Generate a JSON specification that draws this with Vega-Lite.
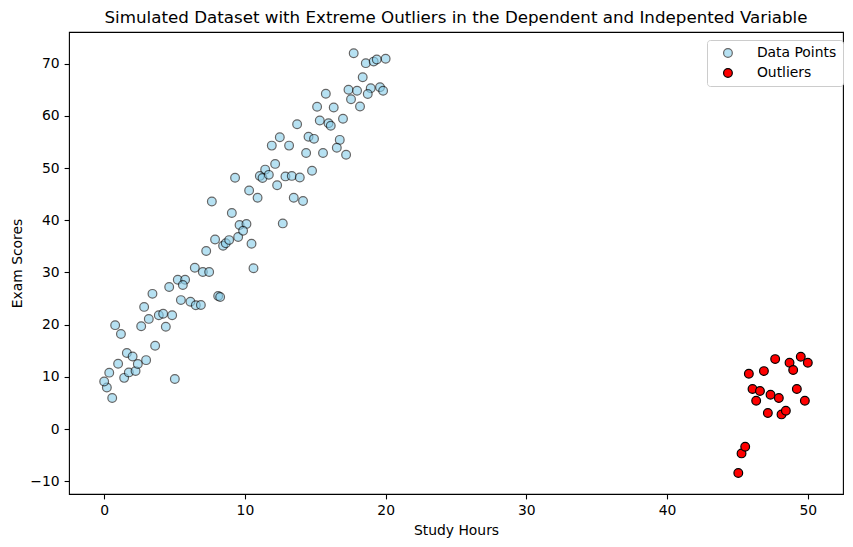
{
  "$schema": "https://vega.github.io/schema/vega-lite/v6.json",
  "autosize": {"type": "none"},
  "width": 774,
  "height": 462,
  "padding": {"left": 69, "top": 32, "right": 10, "bottom": 53},
  "background": "white",
  "title": {
    "text": "Simulated Dataset with Extreme Outliers in the Dependent and Indepented Variable",
    "font": "DejaVu Sans",
    "fontSize": 16.7,
    "fontWeight": "normal",
    "color": "black",
    "anchor": "middle",
    "offset": 5
  },
  "config": {
    "font": "DejaVu Sans",
    "view": {"stroke": "black", "strokeWidth": 1.1, "fill": "white"},
    "axis": {
      "domain": false,
      "grid": false,
      "ticks": true,
      "tickColor": "black",
      "tickWidth": 1.1,
      "tickSize": 4.9,
      "labelPadding": 4.9,
      "labelFont": "DejaVu Sans",
      "labelFontSize": 13.9,
      "labelColor": "black",
      "titleFont": "DejaVu Sans",
      "titleFontSize": 13.9,
      "titleFontWeight": "normal",
      "titleColor": "black",
      "titlePadding": 5.6
    }
  },
  "data": {
    "values": [
      {"h": 0.57, "s": 5.94, "series": "Data Points"},
      {"h": 0.19, "s": 7.97, "series": "Data Points"},
      {"h": 0.0, "s": 9.1, "series": "Data Points"},
      {"h": 0.36, "s": 10.8, "series": "Data Points"},
      {"h": 0.99, "s": 12.5, "series": "Data Points"},
      {"h": 1.42, "s": 9.8, "series": "Data Points"},
      {"h": 1.75, "s": 10.85, "series": "Data Points"},
      {"h": 2.23, "s": 11.1, "series": "Data Points"},
      {"h": 2.39, "s": 12.45, "series": "Data Points"},
      {"h": 1.61, "s": 14.56, "series": "Data Points"},
      {"h": 2.02, "s": 13.9, "series": "Data Points"},
      {"h": 2.98, "s": 13.2, "series": "Data Points"},
      {"h": 3.62, "s": 15.96, "series": "Data Points"},
      {"h": 5.02, "s": 9.58, "series": "Data Points"},
      {"h": 0.78, "s": 19.9, "series": "Data Points"},
      {"h": 1.19, "s": 18.2, "series": "Data Points"},
      {"h": 2.63, "s": 19.7, "series": "Data Points"},
      {"h": 3.17, "s": 21.1, "series": "Data Points"},
      {"h": 2.84, "s": 23.4, "series": "Data Points"},
      {"h": 3.43, "s": 25.9, "series": "Data Points"},
      {"h": 3.88, "s": 21.8, "series": "Data Points"},
      {"h": 4.19, "s": 22.1, "series": "Data Points"},
      {"h": 4.83, "s": 21.8, "series": "Data Points"},
      {"h": 4.38, "s": 19.6, "series": "Data Points"},
      {"h": 4.62, "s": 27.2, "series": "Data Points"},
      {"h": 5.45, "s": 24.7, "series": "Data Points"},
      {"h": 6.13, "s": 24.4, "series": "Data Points"},
      {"h": 6.51, "s": 23.7, "series": "Data Points"},
      {"h": 6.87, "s": 23.75, "series": "Data Points"},
      {"h": 5.23, "s": 28.6, "series": "Data Points"},
      {"h": 5.75, "s": 28.6, "series": "Data Points"},
      {"h": 5.59, "s": 27.6, "series": "Data Points"},
      {"h": 6.44, "s": 30.9, "series": "Data Points"},
      {"h": 7.01, "s": 30.1, "series": "Data Points"},
      {"h": 7.46, "s": 30.1, "series": "Data Points"},
      {"h": 7.25, "s": 34.1, "series": "Data Points"},
      {"h": 8.1, "s": 25.5, "series": "Data Points"},
      {"h": 8.24, "s": 25.3, "series": "Data Points"},
      {"h": 7.88, "s": 36.3, "series": "Data Points"},
      {"h": 8.45, "s": 35.1, "series": "Data Points"},
      {"h": 8.64, "s": 35.6, "series": "Data Points"},
      {"h": 8.88, "s": 36.2, "series": "Data Points"},
      {"h": 9.52, "s": 36.8, "series": "Data Points"},
      {"h": 9.07, "s": 41.4, "series": "Data Points"},
      {"h": 9.62, "s": 39.1, "series": "Data Points"},
      {"h": 10.11, "s": 39.3, "series": "Data Points"},
      {"h": 9.87, "s": 38.0, "series": "Data Points"},
      {"h": 10.47, "s": 35.5, "series": "Data Points"},
      {"h": 10.61, "s": 30.8, "series": "Data Points"},
      {"h": 7.65, "s": 43.6, "series": "Data Points"},
      {"h": 17.73, "s": 72.0, "series": "Data Points"},
      {"h": 18.59, "s": 70.1, "series": "Data Points"},
      {"h": 19.15, "s": 70.4, "series": "Data Points"},
      {"h": 19.37, "s": 70.8, "series": "Data Points"},
      {"h": 20.0, "s": 70.95, "series": "Data Points"},
      {"h": 18.37, "s": 67.4, "series": "Data Points"},
      {"h": 17.36, "s": 65.0, "series": "Data Points"},
      {"h": 17.97, "s": 64.8, "series": "Data Points"},
      {"h": 18.94, "s": 65.3, "series": "Data Points"},
      {"h": 19.6, "s": 65.5, "series": "Data Points"},
      {"h": 19.82, "s": 64.8, "series": "Data Points"},
      {"h": 18.73, "s": 64.2, "series": "Data Points"},
      {"h": 17.54, "s": 63.2, "series": "Data Points"},
      {"h": 18.18, "s": 61.8, "series": "Data Points"},
      {"h": 15.75, "s": 64.25, "series": "Data Points"},
      {"h": 15.13, "s": 61.75, "series": "Data Points"},
      {"h": 16.31, "s": 61.6, "series": "Data Points"},
      {"h": 16.97, "s": 59.45, "series": "Data Points"},
      {"h": 15.32, "s": 59.1, "series": "Data Points"},
      {"h": 15.94, "s": 58.6, "series": "Data Points"},
      {"h": 16.1, "s": 58.1, "series": "Data Points"},
      {"h": 13.71, "s": 58.4, "series": "Data Points"},
      {"h": 12.48, "s": 55.9, "series": "Data Points"},
      {"h": 11.91, "s": 54.3, "series": "Data Points"},
      {"h": 13.14, "s": 54.3, "series": "Data Points"},
      {"h": 14.52, "s": 56.0, "series": "Data Points"},
      {"h": 14.91, "s": 55.6, "series": "Data Points"},
      {"h": 16.74, "s": 55.4, "series": "Data Points"},
      {"h": 16.53, "s": 53.9, "series": "Data Points"},
      {"h": 17.19, "s": 52.55, "series": "Data Points"},
      {"h": 14.35, "s": 52.9, "series": "Data Points"},
      {"h": 15.55, "s": 52.9, "series": "Data Points"},
      {"h": 12.15, "s": 50.8, "series": "Data Points"},
      {"h": 11.44, "s": 49.7, "series": "Data Points"},
      {"h": 11.06, "s": 48.5, "series": "Data Points"},
      {"h": 11.25, "s": 48.1, "series": "Data Points"},
      {"h": 11.7, "s": 48.7, "series": "Data Points"},
      {"h": 12.88, "s": 48.4, "series": "Data Points"},
      {"h": 13.33, "s": 48.5, "series": "Data Points"},
      {"h": 13.9, "s": 48.2, "series": "Data Points"},
      {"h": 14.77, "s": 49.5, "series": "Data Points"},
      {"h": 12.29, "s": 46.7, "series": "Data Points"},
      {"h": 9.3, "s": 48.15, "series": "Data Points"},
      {"h": 10.3, "s": 45.7, "series": "Data Points"},
      {"h": 10.9, "s": 44.3, "series": "Data Points"},
      {"h": 13.47, "s": 44.3, "series": "Data Points"},
      {"h": 14.13, "s": 43.7, "series": "Data Points"},
      {"h": 12.69, "s": 39.4, "series": "Data Points"},
      {"h": 45.06, "s": -8.43, "series": "Outliers"},
      {"h": 45.29, "s": -4.67, "series": "Outliers"},
      {"h": 45.55, "s": -3.39, "series": "Outliers"},
      {"h": 45.81, "s": 10.6, "series": "Outliers"},
      {"h": 46.88, "s": 11.1, "series": "Outliers"},
      {"h": 47.68, "s": 13.4, "series": "Outliers"},
      {"h": 48.7, "s": 12.7, "series": "Outliers"},
      {"h": 48.96, "s": 11.3, "series": "Outliers"},
      {"h": 49.5, "s": 13.85, "series": "Outliers"},
      {"h": 50.0, "s": 12.7, "series": "Outliers"},
      {"h": 46.07, "s": 7.66, "series": "Outliers"},
      {"h": 46.6, "s": 7.28, "series": "Outliers"},
      {"h": 46.33, "s": 5.42, "series": "Outliers"},
      {"h": 47.35, "s": 6.57, "series": "Outliers"},
      {"h": 47.94, "s": 5.93, "series": "Outliers"},
      {"h": 49.22, "s": 7.66, "series": "Outliers"},
      {"h": 49.79, "s": 5.42, "series": "Outliers"},
      {"h": 47.16, "s": 3.06, "series": "Outliers"},
      {"h": 48.13, "s": 2.8, "series": "Outliers"},
      {"h": 48.44, "s": 3.5, "series": "Outliers"}
    ]
  },
  "mark": {
    "type": "point",
    "shape": "circle",
    "filled": true,
    "size": 76,
    "stroke": "black",
    "strokeWidth": 1.2
  },
  "encoding": {
    "x": {
      "field": "h",
      "type": "quantitative",
      "title": "Study Hours",
      "scale": {"domain": [-2.5, 52.5], "nice": false, "zero": false},
      "axis": {"values": [0, 10, 20, 30, 40, 50]}
    },
    "y": {
      "field": "s",
      "type": "quantitative",
      "title": "Exam Scores",
      "scale": {"domain": [-12.45, 76.07], "nice": false, "zero": false},
      "axis": {"values": [-10, 0, 10, 20, 30, 40, 50, 60, 70]}
    },
    "color": {
      "field": "series",
      "type": "nominal",
      "scale": {"domain": ["Data Points", "Outliers"], "range": ["#87CEEB", "#ff0000"]},
      "legend": {
        "title": null,
        "orient": "none",
        "legendX": 638,
        "legendY": 8,
        "padding": 6,
        "fillColor": "white",
        "strokeColor": "#cccccc",
        "cornerRadius": 3,
        "symbolOffset": 8,
        "labelOffset": 22,
        "rowPadding": 5,
        "labelFont": "DejaVu Sans",
        "labelFontSize": 13.9,
        "labelColor": "black",
        "symbolStrokeColor": "black",
        "symbolStrokeWidth": 1.2,
        "symbolSize": 76
      }
    },
    "opacity": {
      "field": "series",
      "type": "nominal",
      "scale": {"domain": ["Data Points", "Outliers"], "range": [0.6, 1]}
    }
  }
}
